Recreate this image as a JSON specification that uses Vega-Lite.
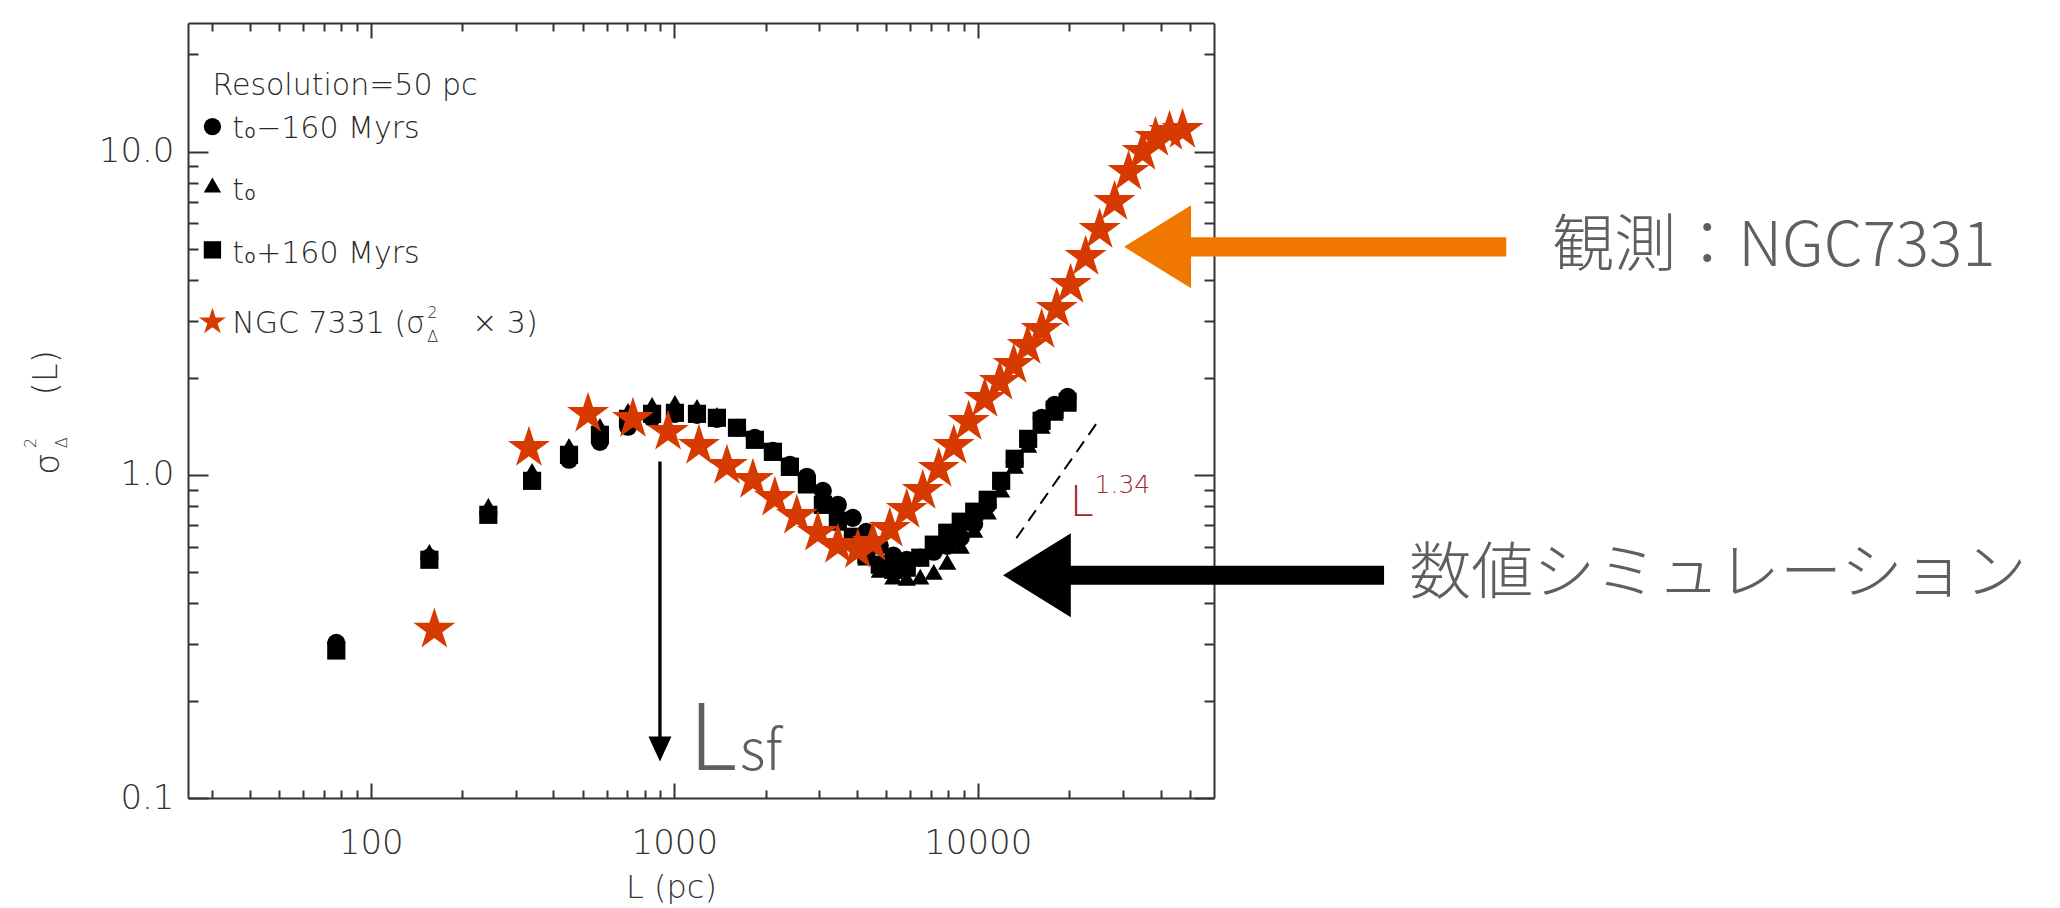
{
  "$schema": "https://vega.github.io/schema/vega-lite/v6.json",
  "width": 1026,
  "height": 775,
  "autosize": {"type": "none"},
  "padding": {"left": 188, "top": 23, "right": 846, "bottom": 110},
  "background": "white",
  "config": {
    "view": {"stroke": null},
    "axis": {
      "domainColor": "#333333", "domainWidth": 2,
      "tickColor": "#333333", "tickWidth": 2, "grid": false,
      "labelFont": "DejaVu Sans", "labelFontSize": 34, "labelColor": "#333333", "labelFontWeight": 300,
      "titleFont": "DejaVu Sans", "titleFontSize": 32, "titleColor": "#333333", "titleFontWeight": 300,
      "labelFlush": false, "labelOverlap": false
    }
  },
  "datasets": {
    "sim": [
      {"series": "t0-160", "L": 77, "s": 0.302}, {"series": "t0-160", "L": 156, "s": 0.554}, {"series": "t0-160", "L": 244, "s": 0.757}, {"series": "t0-160", "L": 340, "s": 0.965}, {"series": "t0-160", "L": 450, "s": 1.113}, {"series": "t0-160", "L": 569, "s": 1.265}, {"series": "t0-160", "L": 704, "s": 1.408}, {"series": "t0-160", "L": 845, "s": 1.501}, {"series": "t0-160", "L": 1005, "s": 1.544}, {"series": "t0-160", "L": 1188, "s": 1.533}, {"series": "t0-160", "L": 1382, "s": 1.490}, {"series": "t0-160", "L": 1609, "s": 1.398}, {"series": "t0-160", "L": 1843, "s": 1.301}, {"series": "t0-160", "L": 2113, "s": 1.187}, {"series": "t0-160", "L": 2404, "s": 1.074}, {"series": "t0-160", "L": 2735, "s": 0.986}, {"series": "t0-160", "L": 3087, "s": 0.892}, {"series": "t0-160", "L": 3458, "s": 0.808}, {"series": "t0-160", "L": 3875, "s": 0.736}, {"series": "t0-160", "L": 4292, "s": 0.666}, {"series": "t0-160", "L": 4754, "s": 0.603}, {"series": "t0-160", "L": 5267, "s": 0.562}, {"series": "t0-160", "L": 5834, "s": 0.546}, {"series": "t0-160", "L": 6463, "s": 0.554}, {"series": "t0-160", "L": 7160, "s": 0.578}, {"series": "t0-160", "L": 7931, "s": 0.603}, {"series": "t0-160", "L": 8786, "s": 0.639}, {"series": "t0-160", "L": 9732, "s": 0.705}, {"series": "t0-160", "L": 10779, "s": 0.808}, {"series": "t0-160", "L": 11939, "s": 0.945}, {"series": "t0-160", "L": 13225, "s": 1.097}, {"series": "t0-160", "L": 14650, "s": 1.283}, {"series": "t0-160", "L": 16230, "s": 1.501}, {"series": "t0-160", "L": 17910, "s": 1.646}, {"series": "t0-160", "L": 19766, "s": 1.742},
      {"series": "t0", "L": 77, "s": 0.296}, {"series": "t0", "L": 156, "s": 0.578}, {"series": "t0", "L": 244, "s": 0.802}, {"series": "t0", "L": 340, "s": 1.029}, {"series": "t0", "L": 450, "s": 1.229}, {"series": "t0", "L": 569, "s": 1.418}, {"series": "t0", "L": 704, "s": 1.578}, {"series": "t0", "L": 845, "s": 1.646}, {"series": "t0", "L": 1005, "s": 1.670}, {"series": "t0", "L": 1188, "s": 1.623}, {"series": "t0", "L": 1382, "s": 1.533}, {"series": "t0", "L": 1609, "s": 1.408}, {"series": "t0", "L": 1843, "s": 1.283}, {"series": "t0", "L": 2113, "s": 1.170}, {"series": "t0", "L": 2404, "s": 1.051}, {"series": "t0", "L": 2735, "s": 0.925}, {"series": "t0", "L": 3087, "s": 0.802}, {"series": "t0", "L": 3458, "s": 0.710}, {"series": "t0", "L": 3875, "s": 0.629}, {"series": "t0", "L": 4292, "s": 0.554}, {"series": "t0", "L": 4754, "s": 0.508}, {"series": "t0", "L": 5267, "s": 0.484}, {"series": "t0", "L": 5834, "s": 0.480}, {"series": "t0", "L": 6463, "s": 0.484}, {"series": "t0", "L": 7160, "s": 0.501}, {"series": "t0", "L": 7931, "s": 0.538}, {"series": "t0", "L": 8786, "s": 0.603}, {"series": "t0", "L": 9732, "s": 0.676}, {"series": "t0", "L": 10779, "s": 0.769}, {"series": "t0", "L": 11939, "s": 0.899}, {"series": "t0", "L": 13225, "s": 1.066}, {"series": "t0", "L": 14650, "s": 1.238}, {"series": "t0", "L": 16230, "s": 1.418}, {"series": "t0", "L": 17910, "s": 1.555}, {"series": "t0", "L": 19766, "s": 1.658},
      {"series": "t0+160", "L": 77, "s": 0.286}, {"series": "t0+160", "L": 156, "s": 0.546}, {"series": "t0+160", "L": 244, "s": 0.752}, {"series": "t0+160", "L": 340, "s": 0.958}, {"series": "t0+160", "L": 450, "s": 1.153}, {"series": "t0+160", "L": 569, "s": 1.330}, {"series": "t0+160", "L": 704, "s": 1.490}, {"series": "t0+160", "L": 845, "s": 1.544}, {"series": "t0+160", "L": 1005, "s": 1.555}, {"series": "t0+160", "L": 1188, "s": 1.544}, {"series": "t0+160", "L": 1382, "s": 1.501}, {"series": "t0+160", "L": 1609, "s": 1.398}, {"series": "t0+160", "L": 1843, "s": 1.283}, {"series": "t0+160", "L": 2113, "s": 1.178}, {"series": "t0+160", "L": 2404, "s": 1.059}, {"series": "t0+160", "L": 2735, "s": 0.938}, {"series": "t0+160", "L": 3087, "s": 0.808}, {"series": "t0+160", "L": 3458, "s": 0.721}, {"series": "t0+160", "L": 3875, "s": 0.643}, {"series": "t0+160", "L": 4292, "s": 0.566}, {"series": "t0+160", "L": 4754, "s": 0.527}, {"series": "t0+160", "L": 5267, "s": 0.508}, {"series": "t0+160", "L": 5834, "s": 0.516}, {"series": "t0+160", "L": 6463, "s": 0.554}, {"series": "t0+160", "L": 7160, "s": 0.608}, {"series": "t0+160", "L": 7931, "s": 0.662}, {"series": "t0+160", "L": 8786, "s": 0.716}, {"series": "t0+160", "L": 9732, "s": 0.769}, {"series": "t0+160", "L": 10779, "s": 0.837}, {"series": "t0+160", "L": 11939, "s": 0.958}, {"series": "t0+160", "L": 13225, "s": 1.121}, {"series": "t0+160", "L": 14650, "s": 1.292}, {"series": "t0+160", "L": 16230, "s": 1.469}, {"series": "t0+160", "L": 17910, "s": 1.589}, {"series": "t0+160", "L": 19766, "s": 1.682}
    ],
    "obs": [
      {"L": 162, "s": 0.332}, {"L": 332, "s": 1.212}, {"L": 520, "s": 1.544}, {"L": 731, "s": 1.490}, {"L": 954, "s": 1.359}, {"L": 1206, "s": 1.229}, {"L": 1491, "s": 1.066}, {"L": 1816, "s": 0.965}, {"L": 2145, "s": 0.849}, {"L": 2534, "s": 0.747}, {"L": 2972, "s": 0.662}, {"L": 3459, "s": 0.607}, {"L": 4024, "s": 0.586}, {"L": 4508, "s": 0.616}, {"L": 5129, "s": 0.681}, {"L": 5834, "s": 0.779}, {"L": 6587, "s": 0.892}, {"L": 7434, "s": 1.044}, {"L": 8332, "s": 1.229}, {"L": 9334, "s": 1.458}, {"L": 10540, "s": 1.718}, {"L": 11810, "s": 1.940}, {"L": 13130, "s": 2.189}, {"L": 14600, "s": 2.506}, {"L": 16230, "s": 2.809}, {"L": 18190, "s": 3.263}, {"L": 20220, "s": 3.870}, {"L": 22660, "s": 4.724}, {"L": 25200, "s": 5.726}, {"L": 28220, "s": 6.988}, {"L": 31380, "s": 8.655}, {"L": 34900, "s": 9.98}, {"L": 38510, "s": 11.03}, {"L": 42820, "s": 11.51}, {"L": 47260, "s": 11.67}
    ],
    "legendSym": [
      {"series": "t0-160", "L": 30.09, "s": 11.95},
      {"series": "t0", "L": 30.09, "s": 7.89},
      {"series": "t0+160", "L": 30.09, "s": 4.966}
    ],
    "legendStar": [{"L": 30.09, "s": 2.973}],
    "legendText": [
      {"t": "Resolution=50 pc", "L": 30.09, "s": 14.97},
      {"t": "t₀−160 Myrs", "L": 35.0, "s": 11.03},
      {"t": "t₀", "L": 35.0, "s": 7.09},
      {"t": "t₀+160 Myrs", "L": 35.0, "s": 4.526},
      {"t": "NGC 7331 (σ", "L": 35.0, "s": 2.755},
      {"t": "× 3)", "L": 215.8, "s": 2.755}
    ],
    "legendSmall": [
      {"t": "2", "L": 153.5, "s": 3.06},
      {"t": "Δ", "L": 153.5, "s": 2.579}
    ],
    "yTitleBig": [
      {"t": "σ", "L": 8.68, "s": 1.081},
      {"t": "(L)", "L": 8.61, "s": 2.068}
    ],
    "yTitleSmall": [
      {"t": "2", "L": 7.57, "s": 1.256},
      {"t": "Δ", "L": 9.61, "s": 1.256}
    ],
    "lsfLine": [{"L": 897, "s": 1.099, "s2": 0.1515}],
    "lsfHead": [{"L": 897, "s": 0.1419}],
    "lsfBig": [{"t": "L", "L": 1118, "s": 0.1224}],
    "lsfSmall": [{"t": "sf", "L": 1646, "s": 0.1224}],
    "dash": [{"L": 13400, "L2": 24870, "s": 0.637, "s2": 1.462}],
    "powL": [{"t": "L", "L": 20070, "s": 0.7466}],
    "powE": [{"t": "1.34", "L": 24250, "s": 0.880}],
    "orangeShaft": [{"L": 47970, "L2": 550700, "s": 5.073}],
    "orangeHead": [{"L": 39110, "s": 5.073}],
    "blackShaft": [{"L": 19320, "L2": 218000, "s": 0.4888}],
    "blackHead": [{"L": 15660, "s": 0.4888}],
    "jp": [
      {"t": "観測：NGC7331", "L": 780500, "s": 5.073},
      {"t": "数値シミュレーション", "L": 264000, "s": 0.4888}
    ]
  },
  "encoding": {
    "x": {"field": "L", "type": "quantitative", "scale": {"type": "log", "domain": [25, 60000], "nice": false}, "axis": null},
    "y": {"field": "s", "type": "quantitative", "scale": {"type": "log", "domain": [0.1, 25], "nice": false}, "axis": null}
  },
  "layer": [
    {
      "data": {"name": "sim"},
      "mark": {"type": "point", "filled": true, "opacity": 1, "size": 330, "fill": "black", "strokeWidth": 0},
      "encoding": {
        "x": {"field": "L", "type": "quantitative", "scale": {"type": "log", "domain": [25, 60000], "nice": false},
          "axis": {"orient": "bottom", "values": [30, 40, 50, 60, 70, 80, 90, 100, 200, 300, 400, 500, 600, 700, 800, 900, 1000, 2000, 3000, 4000, 5000, 6000, 7000, 8000, 9000, 10000, 20000, 30000, 40000, 50000],
            "labelExpr": "datum.value == 100 ? '100' : datum.value == 1000 ? '1000' : datum.value == 10000 ? '10000' : ''",
            "tickSize": {"condition": {"test": "datum.value == 100 || datum.value == 1000 || datum.value == 10000", "value": -15}, "value": -8},
            "labelPadding": 43, "title": "L (pc)", "titleX": 483, "titleY": 99, "titleBaseline": "alphabetic", "titleAlign": "center"}},
        "y": {"field": "s", "type": "quantitative", "scale": {"type": "log", "domain": [0.1, 25], "nice": false},
          "axis": {"orient": "left", "values": [0.1, 0.2, 0.3, 0.4, 0.5, 0.6, 0.7, 0.8, 0.9, 1, 2, 3, 4, 5, 6, 7, 8, 9, 10, 20],
            "labelExpr": "datum.value == 0.1 ? '0.1' : datum.value == 1 ? '1.0' : datum.value == 10 ? '10.0' : ''",
            "tickSize": {"condition": {"test": "datum.value == 0.1 || datum.value == 1 || datum.value == 10", "value": -20}, "value": -10},
            "labelPadding": 34, "title": null}},
        "shape": {"field": "series", "type": "nominal", "scale": {"domain": ["t0-160", "t0", "t0+160"], "range": ["circle", "triangle-up", "square"]}, "legend": null}
      }
    },
    {
      "data": {"name": "obs"},
      "mark": {"type": "point", "filled": true, "opacity": 1, "size": 1950, "fill": "#d63a00", "strokeWidth": 0,
        "shape": "M0,-1L0.2245,-0.309L0.951,-0.309L0.3633,0.118L0.5878,0.809L0,0.382L-0.5878,0.809L-0.3633,0.118L-0.951,-0.309L-0.2245,-0.309Z"},
      "encoding": {
        "x": {"field": "L", "type": "quantitative", "scale": {"type": "log", "domain": [25, 60000], "nice": false},
          "axis": {"orient": "top", "values": [30, 40, 50, 60, 70, 80, 90, 100, 200, 300, 400, 500, 600, 700, 800, 900, 1000, 2000, 3000, 4000, 5000, 6000, 7000, 8000, 9000, 10000, 20000, 30000, 40000, 50000],
            "labels": false, "title": null,
            "tickSize": {"condition": {"test": "datum.value == 100 || datum.value == 1000 || datum.value == 10000", "value": -15}, "value": -8}}},
        "y": {"field": "s", "type": "quantitative", "scale": {"type": "log", "domain": [0.1, 25], "nice": false},
          "axis": {"orient": "right", "values": [0.1, 0.2, 0.3, 0.4, 0.5, 0.6, 0.7, 0.8, 0.9, 1, 2, 3, 4, 5, 6, 7, 8, 9, 10, 20],
            "labels": false, "title": null,
            "tickSize": {"condition": {"test": "datum.value == 0.1 || datum.value == 1 || datum.value == 10", "value": -20}, "value": -10}}}
      }
    },
    {
      "data": {"name": "legendSym"},
      "mark": {"type": "point", "filled": true, "opacity": 1, "size": 300, "fill": "black", "strokeWidth": 0},
      "encoding": {
        "shape": {"field": "series", "type": "nominal", "scale": {"domain": ["t0-160", "t0", "t0+160"], "range": ["circle", "triangle-up", "square"]}, "legend": null}
      }
    },
    {
      "data": {"name": "legendStar"},
      "mark": {"type": "point", "filled": true, "opacity": 1, "size": 806, "fill": "#d63a00", "strokeWidth": 0,
        "shape": "M0,-1L0.2245,-0.309L0.951,-0.309L0.3633,0.118L0.5878,0.809L0,0.382L-0.5878,0.809L-0.3633,0.118L-0.951,-0.309L-0.2245,-0.309Z"}
    },
    {
      "data": {"name": "legendText"},
      "mark": {"type": "text", "align": "left", "baseline": "alphabetic", "font": "DejaVu Sans", "fontWeight": 300, "fontSize": 30, "fill": "#2a2a2a"},
      "encoding": {"text": {"field": "t"}}
    },
    {
      "data": {"name": "legendSmall"},
      "mark": {"type": "text", "align": "left", "baseline": "alphabetic", "font": "DejaVu Sans", "fontWeight": 300, "fontSize": 16, "fill": "#2a2a2a"},
      "encoding": {"text": {"field": "t"}}
    },
    {
      "data": {"name": "yTitleBig"},
      "mark": {"type": "text", "align": "center", "baseline": "middle", "angle": 270, "font": "DejaVu Sans", "fontWeight": 300, "fontSize": 34, "fill": "#333333"},
      "encoding": {"text": {"field": "t"}}
    },
    {
      "data": {"name": "yTitleSmall"},
      "mark": {"type": "text", "align": "center", "baseline": "middle", "angle": 270, "font": "DejaVu Sans", "fontWeight": 300, "fontSize": 16, "fill": "#333333"},
      "encoding": {"text": {"field": "t"}}
    },
    {
      "data": {"name": "lsfLine"},
      "mark": {"type": "rule", "stroke": "black", "strokeWidth": 3.3},
      "encoding": {"y2": {"field": "s2"}}
    },
    {
      "data": {"name": "lsfHead"},
      "mark": {"type": "point", "filled": true, "opacity": 1, "size": 625, "fill": "black", "strokeWidth": 0, "shape": "M-0.92,-1L0.92,-1L0,1Z"}
    },
    {
      "data": {"name": "lsfBig"},
      "mark": {"type": "text", "align": "left", "baseline": "alphabetic", "font": "Noto Sans CJK JP", "fontWeight": 300, "fontSize": 92, "fill": "#5f5f5f"},
      "encoding": {"text": {"field": "t"}}
    },
    {
      "data": {"name": "lsfSmall"},
      "mark": {"type": "text", "align": "left", "baseline": "alphabetic", "font": "Noto Sans CJK JP", "fontWeight": 300, "fontSize": 56, "fill": "#5f5f5f"},
      "encoding": {"text": {"field": "t"}}
    },
    {
      "data": {"name": "dash"},
      "mark": {"type": "rule", "stroke": "black", "strokeWidth": 2, "strokeDash": [13, 8]},
      "encoding": {"x2": {"field": "L2"}, "y2": {"field": "s2"}}
    },
    {
      "data": {"name": "powL"},
      "mark": {"type": "text", "align": "left", "baseline": "alphabetic", "font": "DejaVu Sans", "fontWeight": 300, "fontSize": 43, "fill": "#a3262f"},
      "encoding": {"text": {"field": "t"}}
    },
    {
      "data": {"name": "powE"},
      "mark": {"type": "text", "align": "left", "baseline": "alphabetic", "font": "DejaVu Sans", "fontWeight": 300, "fontSize": 25, "fill": "#a3262f"},
      "encoding": {"text": {"field": "t"}}
    },
    {
      "data": {"name": "orangeShaft"},
      "mark": {"type": "rule", "stroke": "#f07800", "strokeWidth": 19.4, "strokeCap": "butt"},
      "encoding": {"x2": {"field": "L2"}}
    },
    {
      "data": {"name": "orangeHead"},
      "mark": {"type": "point", "filled": true, "opacity": 1, "size": 6889, "fill": "#f07800", "strokeWidth": 0, "shape": "M-0.807,0L0.807,-1L0.807,1Z"}
    },
    {
      "data": {"name": "blackShaft"},
      "mark": {"type": "rule", "stroke": "black", "strokeWidth": 19, "strokeCap": "butt"},
      "encoding": {"x2": {"field": "L2"}}
    },
    {
      "data": {"name": "blackHead"},
      "mark": {"type": "point", "filled": true, "opacity": 1, "size": 7056, "fill": "black", "strokeWidth": 0, "shape": "M-0.807,0L0.807,-1L0.807,1Z"}
    },
    {
      "data": {"name": "jp"},
      "mark": {"type": "text", "align": "left", "baseline": "middle", "font": "Noto Sans CJK JP", "fontWeight": 300, "fontSize": 62, "fill": "#5f5f5f"},
      "encoding": {"text": {"field": "t"}}
    }
  ],
  "resolve": {"axis": {"x": "independent", "y": "independent"}}
}
